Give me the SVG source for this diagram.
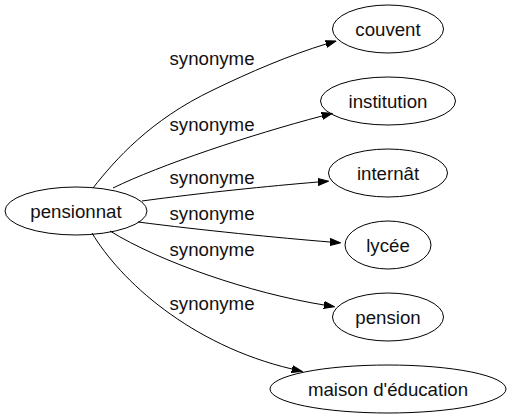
<svg xmlns="http://www.w3.org/2000/svg" width="510" height="419" viewBox="0 0 510 419">
<style>
  .node ellipse { fill: none; stroke: #000; stroke-width: 1; }
  .node text { font-family: "Liberation Sans", Arial, sans-serif; font-size: 18.67px; fill: #111; text-anchor: middle; }
  .edge path { fill: none; stroke: #000; stroke-width: 1; }
  .edge text { font-family: "Liberation Sans", Arial, sans-serif; font-size: 18.67px; fill: #111; text-anchor: middle; }
</style>
<defs>
  <marker id="arr" markerUnits="userSpaceOnUse" markerWidth="11" markerHeight="9" refX="0" refY="4.5" orient="auto">
    <path d="M0,1 L10.5,4.5 L0,8 Z" fill="#000" stroke="#000" stroke-width="1"/>
  </marker>
</defs>
<rect width="510" height="419" fill="#fff"/>
<g id="edges">
  <g class="edge" id="e1">
    <path d="M93,188 C115,160 150,120 213,90 C250,72 290,55 326,44" marker-end="url(#arr)"/>
    <text x="212" y="65">synonyme</text>
  </g>
  <g class="edge" id="e2">
    <path d="M113,188 C160,165 250,135 322,116" marker-end="url(#arr)"/>
    <text x="212" y="131">synonyme</text>
  </g>
  <g class="edge" id="e3">
    <path d="M142,201 C200,193 270,186 318,182" marker-end="url(#arr)"/>
    <text x="212" y="184">synonyme</text>
  </g>
  <g class="edge" id="e4">
    <path d="M138,222 C200,230 280,238 330,242" marker-end="url(#arr)"/>
    <text x="212" y="220">synonyme</text>
  </g>
  <g class="edge" id="e5">
    <path d="M110,231 C160,262 250,293 324,305" marker-end="url(#arr)"/>
    <text x="212" y="256">synonyme</text>
  </g>
  <g class="edge" id="e6">
    <path d="M92,233 C120,280 190,345 292,369" marker-end="url(#arr)"/>
    <text x="212" y="310">synonyme</text>
  </g>
</g>
<g class="node" id="pensionnat">
  <ellipse cx="76" cy="211" rx="71" ry="24"/>
  <text x="76" y="218">pensionnat</text>
</g>
<g class="node" id="couvent">
  <ellipse cx="388" cy="29" rx="55.5" ry="24"/>
  <text x="388" y="36">couvent</text>
</g>
<g class="node" id="institution">
  <ellipse cx="388" cy="101" rx="67.5" ry="24"/>
  <text x="388" y="108">institution</text>
</g>
<g class="node" id="internat">
  <ellipse cx="388" cy="173" rx="59.5" ry="24"/>
  <text x="388" y="180">internât</text>
</g>
<g class="node" id="lycee">
  <ellipse cx="388" cy="245" rx="43" ry="24"/>
  <text x="388" y="252">lycée</text>
</g>
<g class="node" id="pension">
  <ellipse cx="388" cy="317" rx="55.5" ry="24"/>
  <text x="388" y="324">pension</text>
</g>
<g class="node" id="maison">
  <ellipse cx="388" cy="389" rx="118" ry="24"/>
  <text x="388" y="396">maison d'éducation</text>
</g>
</svg>
